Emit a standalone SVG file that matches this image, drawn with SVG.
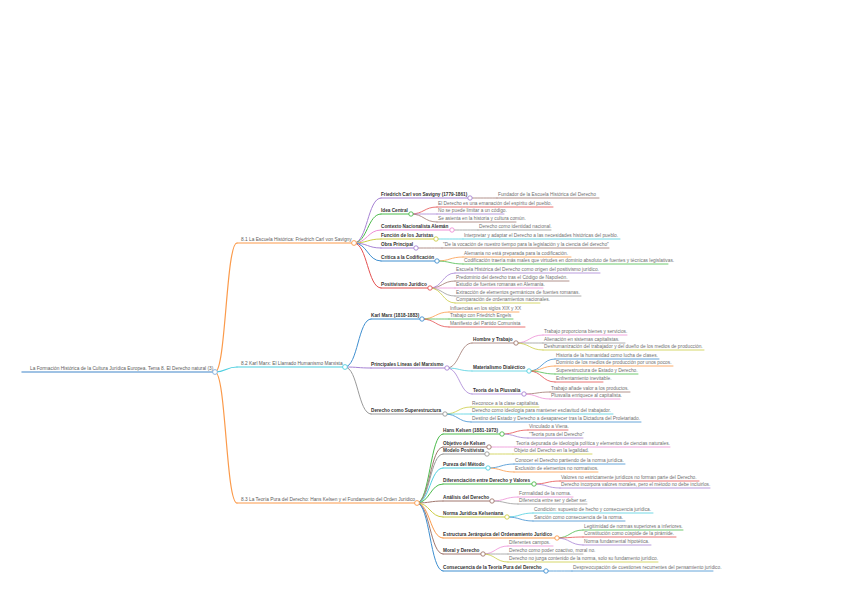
<svg xmlns="http://www.w3.org/2000/svg" width="848" height="599" viewBox="0 0 848 599">
<style>
text{font-family:"Liberation Sans",Arial,sans-serif;font-size:4.8px;fill:#707070}
.b{font-weight:bold;fill:#333;font-size:4.7px}
.m{fill:#606060}
path{fill:none;stroke-linecap:round}
.w0{stroke-width:1.5}.w1{stroke-width:1.2}.w2{stroke-width:1}.w3{stroke-width:0.8}
circle{fill:#fff;stroke-width:0.9}
.or{stroke:#fb9a4a}.cy{stroke:#4fcfe0}.bl{stroke:#3f8fd0}.gr{stroke:#4cbb4c}.rd{stroke:#e45050}.pu{stroke:#a783d4}.br{stroke:#a0776e}.pk{stroke:#ee8fd6}.gy{stroke:#9a9a9a}.yl{stroke:#cccd45}.rt{stroke:#80aedb}
</style>
<rect width="848" height="599" fill="#fff"/>
<g id="connectors">
<path class="w1 or" d="M215 372C226 372 226 243 237 243"/>
<path class="w1 cy" d="M215 372C226 372 226 367 237 367"/>
<path class="w1 or" d="M215 372C226 372 226 503 237 503"/>
<path class="w2 pu" d="M354 243C367.5 243 367.5 198 381 198"/>
<path class="w2 gr" d="M354 243C367.5 243 367.5 214 381 214"/>
<path class="w2 pk" d="M354 243C367.5 243 367.5 230 381 230"/>
<path class="w2 yl" d="M354 243C367.5 243 367.5 239 381 239"/>
<path class="w2 pu" d="M354 243C367.5 243 367.5 248 381 248"/>
<path class="w2 bl" d="M354 243C367.5 243 367.5 261 381 261"/>
<path class="w2 rd" d="M354 243C367.5 243 367.5 288 381 288"/>
<path class="w3 br" d="M470 198C483.5 198 483.5 198 497 198"/>
<path class="w3 rd" d="M411 214C424 214 424 207 437 207"/>
<path class="w3 pu" d="M411 214C424 214 424 214 437 214"/>
<path class="w3 br" d="M411 214C424 214 424 222 437 222"/>
<path class="w3 gy" d="M452 230C465 230 465 230 478 230"/>
<path class="w3 cy" d="M436 239C449.5 239 449.5 239 463 239"/>
<path class="w3 br" d="M416 248C429 248 429 248 442 248"/>
<path class="w3 or" d="M437 261C450 261 450 257 463 257"/>
<path class="w3 gr" d="M437 261C450 261 450 264 463 264"/>
<path class="w3 pu" d="M430 288C442.5 288 442.5 273 455 273"/>
<path class="w3 br" d="M430 288C442.5 288 442.5 281 455 281"/>
<path class="w3 pk" d="M430 288C442.5 288 442.5 288 455 288"/>
<path class="w3 gy" d="M430 288C442.5 288 442.5 296 455 296"/>
<path class="w3 yl" d="M430 288C442.5 288 442.5 303 455 303"/>
<path class="w2 bl" d="M345 367C358 367 358 319 371 319"/>
<path class="w2 pu" d="M345 367C358 367 358 368 371 368"/>
<path class="w2 gy" d="M345 367C358 367 358 414 371 414"/>
<path class="w3 or" d="M422 319C435.5 319 435.5 312 449 312"/>
<path class="w3 gr" d="M422 319C435.5 319 435.5 319 449 319"/>
<path class="w3 rd" d="M422 319C435.5 319 435.5 327 449 327"/>
<path class="w3 br" d="M447 368C459.5 368 459.5 343 472 343"/>
<path class="w3 cy" d="M447 368C459.5 368 459.5 371 472 371"/>
<path class="w3 pu" d="M447 368C459.5 368 459.5 394 472 394"/>
<path class="w3 pk" d="M516 343C529.5 343 529.5 335 543 335"/>
<path class="w3 gy" d="M516 343C529.5 343 529.5 343 543 343"/>
<path class="w3 yl" d="M516 343C529.5 343 529.5 350 543 350"/>
<path class="w3 bl" d="M529 371C542 371 542 359 555 359"/>
<path class="w3 or" d="M529 371C542 371 542 366 555 366"/>
<path class="w3 gr" d="M529 371C542 371 542 374 555 374"/>
<path class="w3 rd" d="M529 371C542 371 542 382 555 382"/>
<path class="w3 br" d="M524 394C537 394 537 392 550 392"/>
<path class="w3 pk" d="M524 394C537 394 537 399 550 399"/>
<path class="w3 yl" d="M445 414C458 414 458 407 471 407"/>
<path class="w3 cy" d="M445 414C458 414 458 414 471 414"/>
<path class="w3 bl" d="M445 414C458 414 458 422 471 422"/>
<path class="w2 gr" d="M417 503C430 503 430 434 443 434"/>
<path class="w2 br" d="M417 503C430 503 430 447 443 447"/>
<path class="w2 gy" d="M417 503C430 503 430 454 443 454"/>
<path class="w2 cy" d="M417 503C430 503 430 468 443 468"/>
<path class="w2 gr" d="M417 503C430 503 430 484 443 484"/>
<path class="w2 br" d="M417 503C430 503 430 501 443 501"/>
<path class="w2 yl" d="M417 503C430 503 430 517 443 517"/>
<path class="w2 or" d="M417 503C430 503 430 538 443 538"/>
<path class="w2 br" d="M417 503C430 503 430 554 443 554"/>
<path class="w2 bl" d="M417 503C430 503 430 571 443 571"/>
<path class="w3 rd" d="M502 434C515 434 515 430 528 430"/>
<path class="w3 pu" d="M502 434C515 434 515 438 528 438"/>
<path class="w3 pk" d="M489 447C502 447 502 447 515 447"/>
<path class="w3 yl" d="M487 454C500 454 500 454 513 454"/>
<path class="w3 bl" d="M488 468C501 468 501 464 514 464"/>
<path class="w3 or" d="M488 468C501 468 501 472 514 472"/>
<path class="w3 rd" d="M534 484C547 484 547 481 560 481"/>
<path class="w3 pu" d="M534 484C547 484 547 488 560 488"/>
<path class="w3 pk" d="M492 501C505 501 505 497 518 497"/>
<path class="w3 gy" d="M492 501C505 501 505 504 518 504"/>
<path class="w3 cy" d="M507 517C520 517 520 513 533 513"/>
<path class="w3 bl" d="M507 517C520 517 520 521 533 521"/>
<path class="w3 gr" d="M557 538C570 538 570 530 583 530"/>
<path class="w3 rd" d="M557 538C570 538 570 537 583 537"/>
<path class="w3 pu" d="M557 538C570 538 570 545 583 545"/>
<path class="w3 pk" d="M483 554C495.5 554 495.5 546 508 546"/>
<path class="w3 gy" d="M483 554C495.5 554 495.5 554 508 554"/>
<path class="w3 yl" d="M483 554C495.5 554 495.5 562 508 562"/>
<path class="w3 bl" d="M546 571C559 571 559 571 572 571"/>
</g>
<g id="root"><path class="w0 rt" d="M22 372H215"/><text class="m" x="30" y="370">La Formación Histórica de la Cultura Jurídica Europea. Tema 8. El Derecho natural (3)</text><circle class="rt" cx="215" cy="372" r="2.4"/></g>
<g id="n81"><path class="w1 or" d="M237 243H354"/><text class="m" x="241" y="241">8.1 La Escuela Histórica: Friedrich Carl von Savigny</text><circle class="or" cx="354" cy="243" r="2.4"/></g>
<g id="n82"><path class="w1 cy" d="M237 367H345"/><text class="m" x="241" y="365">8.2 Karl Marx: El Llamado Humanismo Marxista</text><circle class="cy" cx="345" cy="367" r="2.4"/></g>
<g id="n83"><path class="w1 or" d="M237 503H417"/><text class="m" x="241" y="501">8.3 La Teoría Pura del Derecho: Hans Kelsen y el Fundamento del Orden Jurídico</text><circle class="or" cx="417" cy="503" r="2.4"/></g>
<g id="a1"><path class="w2 pu" d="M381 198H470"/><text class="b" x="381" y="196">Friedrich Carl von Savigny (1779-1861)</text><circle class="pu" cx="470" cy="198" r="2.2"/></g>
<g id="a1-1"><path class="w3 br" d="M497 198H599"/><text x="498" y="196.2">Fundador de la Escuela Histórica del Derecho</text></g>
<g id="a2"><path class="w2 gr" d="M381 214H411"/><text class="b" x="381" y="212">Idea Central</text><circle class="gr" cx="411" cy="214" r="2.2"/></g>
<g id="a2-1"><path class="w3 rd" d="M437 207H553"/><text x="438" y="205.2">El Derecho es una emanación del espíritu del pueblo.</text></g>
<g id="a2-2"><path class="w3 pu" d="M437 214H504"/><text x="438" y="212.2">No se puede limitar a un código.</text></g>
<g id="a2-3"><path class="w3 br" d="M437 222H516"/><text x="438" y="220.2">Se asienta en la historia y cultura común.</text></g>
<g id="a3"><path class="w2 pk" d="M381 230H452"/><text class="b" x="381" y="228">Contexto Nacionalista Alemán</text><circle class="pk" cx="452" cy="230" r="2.2"/></g>
<g id="a3-1"><path class="w3 gy" d="M478 230H551"/><text x="479" y="228.2">Derecho como identidad nacional.</text></g>
<g id="a4"><path class="w2 yl" d="M381 239H436"/><text class="b" x="381" y="237">Función de los Juristas</text><circle class="yl" cx="436" cy="239" r="2.2"/></g>
<g id="a4-1"><path class="w3 cy" d="M463 239H620"/><text x="464" y="237.2">Interpretar y adaptar el Derecho a las necesidades históricas del pueblo.</text></g>
<g id="a5"><path class="w2 pu" d="M381 248H416"/><text class="b" x="381" y="246">Obra Principal</text><circle class="pu" cx="416" cy="248" r="2.2"/></g>
<g id="a5-1"><path class="w3 br" d="M442 248H609"/><text x="443" y="246.2">"De la vocación de nuestro tiempo para la legislación y la ciencia del derecho"</text></g>
<g id="a6"><path class="w2 bl" d="M381 261H437"/><text class="b" x="381" y="259">Crítica a la Codificación</text><circle class="bl" cx="437" cy="261" r="2.2"/></g>
<g id="a6-1"><path class="w3 or" d="M463 257H571"/><text x="464" y="255.2">Alemania no está preparada para la codificación.</text></g>
<g id="a6-2"><path class="w3 gr" d="M463 264H668"/><text x="464" y="262.2">Codificación traería más males que virtudes en dominio absoluto de fuentes y técnicas legislativas.</text></g>
<g id="a7"><path class="w2 rd" d="M381 288H430"/><text class="b" x="381" y="286">Positivismo Jurídico</text><circle class="rd" cx="430" cy="288" r="2.2"/></g>
<g id="a7-1"><path class="w3 pu" d="M455 273H600"/><text x="456" y="271.2">Escuela Histórica del Derecho como origen del positivismo jurídico.</text></g>
<g id="a7-2"><path class="w3 br" d="M455 281H569"/><text x="456" y="279.2">Predominio del derecho tras el Código de Napoleón.</text></g>
<g id="a7-3"><path class="w3 pk" d="M455 288H543"/><text x="456" y="286.2">Estudio de fuentes romanas en Alemania.</text></g>
<g id="a7-4"><path class="w3 gy" d="M455 296H581"/><text x="456" y="294.2">Extracción de elementos germánicos de fuentes romanas.</text></g>
<g id="a7-5"><path class="w3 yl" d="M455 303H540"/><text x="456" y="301.2">Comparación de ordenamientos nacionales.</text></g>
<g id="b1"><path class="w2 bl" d="M371 319H422"/><text class="b" x="371" y="317">Karl Marx (1818-1883)</text><circle class="bl" cx="422" cy="319" r="2.2"/></g>
<g id="b1-1"><path class="w3 or" d="M449 312H519"/><text x="450" y="310.2">Influencias en los siglos XIX y XX</text></g>
<g id="b1-2"><path class="w3 gr" d="M449 319H513"/><text x="450" y="317.2">Trabajo con Friedrich Engels</text></g>
<g id="b1-3"><path class="w3 rd" d="M449 327H525"/><text x="450" y="325.2">Manifiesto del Partido Comunista</text></g>
<g id="b2"><path class="w2 pu" d="M371 368H447"/><text class="b" x="371" y="366">Principales Líneas del Marxismo</text><circle class="pu" cx="447" cy="368" r="2.2"/></g>
<g id="c1"><path class="w3 br" d="M472 343H516"/><text class="b" x="473" y="341">Hombre y Trabajo</text><circle class="br" cx="516" cy="343" r="2.2"/></g>
<g id="c1-1"><path class="w3 pk" d="M543 335H627"/><text x="544" y="333.2">Trabajo proporciona bienes y servicios.</text></g>
<g id="c1-2"><path class="w3 gy" d="M543 343H625"/><text x="544" y="341.2">Alienación en sistemas capitalistas.</text></g>
<g id="c1-3"><path class="w3 yl" d="M543 350H704"/><text x="544" y="348.2">Deshumanización del trabajador y del dueño de los medios de producción.</text></g>
<g id="c2"><path class="w3 cy" d="M472 371H529"/><text class="b" x="473" y="369">Materialismo Dialéctico</text><circle class="cy" cx="529" cy="371" r="2.2"/></g>
<g id="c2-1"><path class="w3 bl" d="M555 359H659"/><text x="556" y="357.2">Historia de la humanidad como lucha de clases.</text></g>
<g id="c2-2"><path class="w3 or" d="M555 366H673"/><text x="556" y="364.2">Dominio de los medios de producción por unos pocos.</text></g>
<g id="c2-3"><path class="w3 gr" d="M555 374H638"/><text x="556" y="372.2">Superestructura de Estado y Derecho.</text></g>
<g id="c2-4"><path class="w3 rd" d="M555 382H603"/><text x="556" y="380.2">Enfrentamiento inevitable.</text></g>
<g id="c3"><path class="w3 pu" d="M472 394H524"/><text class="b" x="473" y="392">Teoría de la Plusvalía</text><circle class="pu" cx="524" cy="394" r="2.2"/></g>
<g id="c3-1"><path class="w3 br" d="M550 392H630"/><text x="551" y="390.2">Trabajo añade valor a los productos.</text></g>
<g id="c3-2"><path class="w3 pk" d="M550 399H620"/><text x="551" y="397.2">Plusvalía enriquece al capitalista.</text></g>
<g id="b3"><path class="w2 gy" d="M371 414H445"/><text class="b" x="371" y="412">Derecho como Superestructura</text><circle class="gy" cx="445" cy="414" r="2.2"/></g>
<g id="b3-1"><path class="w3 yl" d="M471 407H539"/><text x="472" y="405.2">Reconoce a la clase capitalista.</text></g>
<g id="b3-2"><path class="w3 cy" d="M471 414H613"/><text x="472" y="412.2">Derecho como ideología para mantener esclavitud del trabajador.</text></g>
<g id="b3-3"><path class="w3 bl" d="M471 422H641"/><text x="472" y="420.2">Destino del Estado y Derecho a desaparecer tras la Dictadura del Proletariado.</text></g>
<g id="d1"><path class="w2 gr" d="M443 434H502"/><text class="b" x="443" y="432">Hans Kelsen (1881-1973)</text><circle class="gr" cx="502" cy="434" r="2.2"/></g>
<g id="d1-1"><path class="w3 rd" d="M528 430H568"/><text x="529" y="428.2">Vinculado a Viena.</text></g>
<g id="d1-2"><path class="w3 pu" d="M528 438H583"/><text x="529" y="436.2">"Teoría pura del Derecho"</text></g>
<g id="d2"><path class="w2 br" d="M443 447H489"/><text class="b" x="443" y="445">Objetivo de Kelsen</text><circle class="br" cx="489" cy="447" r="2.2"/></g>
<g id="d2-1"><path class="w3 pk" d="M515 447H670"/><text x="516" y="445.2">Teoría depurada de ideología política y elementos de ciencias naturales.</text></g>
<g id="d3"><path class="w2 gy" d="M443 454H487"/><text class="b" x="443" y="452">Modelo Positivista</text><circle class="gy" cx="487" cy="454" r="2.2"/></g>
<g id="d3-1"><path class="w3 yl" d="M513 454H592"/><text x="514" y="452.2">Objeto del Derecho en la legalidad.</text></g>
<g id="d4"><path class="w2 cy" d="M443 468H488"/><text class="b" x="443" y="466">Pureza del Método</text><circle class="cy" cx="488" cy="468" r="2.2"/></g>
<g id="d4-1"><path class="w3 bl" d="M514 464H625"/><text x="515" y="462.2">Conocer el Derecho partiendo de la norma jurídica.</text></g>
<g id="d4-2"><path class="w3 or" d="M514 472H598"/><text x="515" y="470.2">Exclusión de elementos no normativos.</text></g>
<g id="d5"><path class="w2 gr" d="M443 484H534"/><text class="b" x="443" y="482">Diferenciación entre Derecho y Valores</text><circle class="gr" cx="534" cy="484" r="2.2"/></g>
<g id="d5-1"><path class="w3 rd" d="M560 481H699"/><text x="561" y="479.2">Valores no estrictamente jurídicos no forman parte del Derecho.</text></g>
<g id="d5-2"><path class="w3 pu" d="M560 488H710"/><text x="561" y="486.2">Derecho incorpora valores morales, pero el método no debe incluirlos.</text></g>
<g id="d6"><path class="w2 br" d="M443 501H492"/><text class="b" x="443" y="499">Análisis del Derecho</text><circle class="br" cx="492" cy="501" r="2.2"/></g>
<g id="d6-1"><path class="w3 pk" d="M518 497H573"/><text x="519" y="495.2">Formalidad de la norma.</text></g>
<g id="d6-2"><path class="w3 gy" d="M518 504H587"/><text x="519" y="502.2">Diferencia entre ser y deber ser.</text></g>
<g id="d7"><path class="w2 yl" d="M443 517H507"/><text class="b" x="443" y="515">Norma Jurídica Kelseniana</text><circle class="yl" cx="507" cy="517" r="2.2"/></g>
<g id="d7-1"><path class="w3 cy" d="M533 513H653"/><text x="534" y="511.2">Condición: supuesto de hecho y consecuencia jurídica.</text></g>
<g id="d7-2"><path class="w3 bl" d="M533 521H625"/><text x="534" y="519.2">Sanción como consecuencia de la norma.</text></g>
<g id="d8"><path class="w2 or" d="M443 538H557"/><text class="b" x="443" y="536">Estructura Jerárquica del Ordenamiento Jurídico</text><circle class="or" cx="557" cy="538" r="2.2"/></g>
<g id="d8-1"><path class="w3 gr" d="M583 530H683"/><text x="584" y="528.2">Legitimidad de normas superiores a inferiores.</text></g>
<g id="d8-2"><path class="w3 rd" d="M583 537H676"/><text x="584" y="535.2">Constitución como cúspide de la pirámide.</text></g>
<g id="d8-3"><path class="w3 pu" d="M583 545H651"/><text x="584" y="543.2">Norma fundamental hipotética.</text></g>
<g id="d9"><path class="w2 br" d="M443 554H483"/><text class="b" x="443" y="552">Moral y Derecho</text><circle class="br" cx="483" cy="554" r="2.2"/></g>
<g id="d9-1"><path class="w3 pk" d="M508 546H553"/><text x="509" y="544.2">Diferentes campos.</text></g>
<g id="d9-2"><path class="w3 gy" d="M508 554H583"/><text x="509" y="552.2">Derecho como poder coactivo, moral no.</text></g>
<g id="d9-3"><path class="w3 yl" d="M508 562H658"/><text x="509" y="560.2">Derecho no juzga contenido de la norma, solo su fundamento jurídico.</text></g>
<g id="d10"><path class="w2 bl" d="M443 571H546"/><text class="b" x="443" y="569">Consecuencia de la Teoría Pura del Derecho</text><circle class="bl" cx="546" cy="571" r="2.2"/></g>
<g id="d10-1"><path class="w3 bl" d="M572 571H713"/><text x="573" y="569.2">Despreocupación de cuestiones recurrentes del pensamiento jurídico.</text></g>
</svg>
